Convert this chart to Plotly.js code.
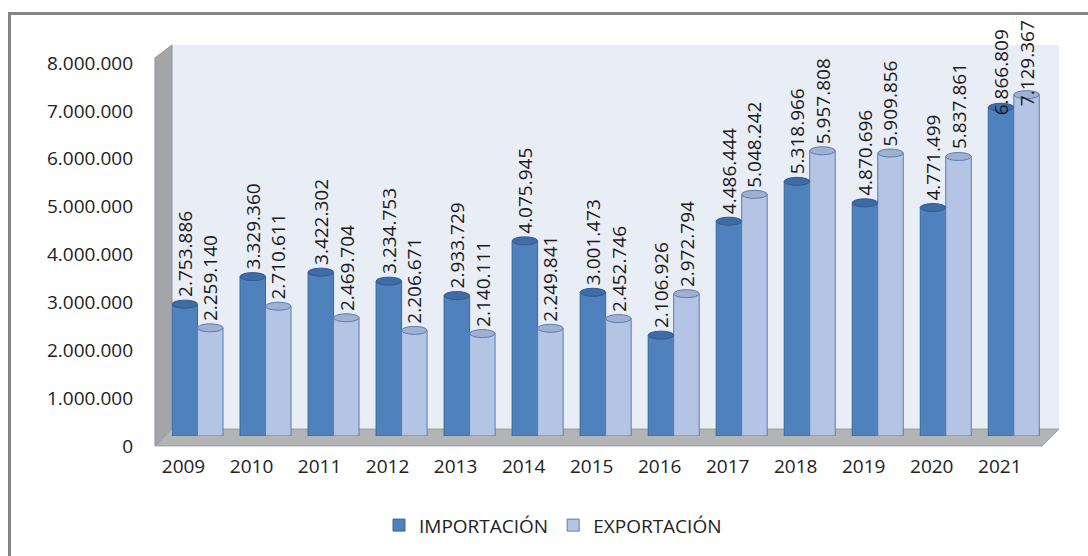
<!DOCTYPE html>
<html>
<head>
<meta charset="utf-8">
<script src="https://cdn.plot.ly/plotly-3.0.1.min.js"></script>
<style>
  html, body { margin: 0; padding: 0; background: #ffffff; }
  #chart { position: absolute; left: 0; top: 0; width: 1088px; height: 556px; }
  #frame { position: absolute; left: 8px; top: 12px; width: 1200px; height: 700px;
           border: 3px solid #858585; box-sizing: border-box; pointer-events: none; }
</style>
</head>
<body>
<div id="chart"></div>
<div id="frame"></div>
<script>
const years = [2009, 2010, 2011, 2012, 2013, 2014, 2015, 2016, 2017, 2018, 2019, 2020, 2021];
const importacion = [2753886, 3329360, 3422302, 3234753, 2933729, 4075945, 3001473, 2106926, 4486444, 5318966, 4870696, 4771499, 6866809];
const exportacion = [2259140, 2710611, 2469704, 2206671, 2140111, 2249841, 2452746, 2972794, 5048242, 5957808, 5909856, 5837861, 7129367];
const seriesNames = ['IMPORTACIÓN', 'EXPORTACIÓN'];
const yTicks = [0, 1000000, 2000000, 3000000, 4000000, 5000000, 6000000, 7000000, 8000000];

const W = 1088, H = 556;
const M = { l: 172, r: 30, t: 53, b: 116 };
const PW = W - M.l - M.r, PH = H - M.t - M.b;
// convert pixel position to paper coordinates (for decorative walls)
const px = x => (x - M.l) / PW;
const py = y => (H - M.b - y) / PH;
const path = pts => 'M ' + pts.map(p => px(p[0]).toFixed(5) + ',' + py(p[1]).toFixed(5)).join(' L ') + ' Z';

const FS = 19;
const font = { family: 'Open Sans, sans-serif', size: FS, color: '#222222' };
const BARGAP = 0.25;
const half = (1 - BARGAP) / 4; // centre offset of each bar within the group
const fmt = v => String(v).replace(/\B(?=(\d{3})+(?!\d))/g, '.');

const traces = [
  {
    type: 'bar', name: seriesNames[0], x: years, y: importacion,
    marker: { color: '#4f81bd', line: { color: '#3a6699', width: 1 } },
    hoverinfo: 'x+y'
  },
  {
    type: 'bar', name: seriesNames[1], x: years, y: exportacion,
    marker: { color: '#b4c4e4', line: { color: '#5a7cb3', width: 1 } },
    hoverinfo: 'x+y'
  }
];

const shapes = [
  // back wall
  { type: 'path', xref: 'paper', yref: 'paper', layer: 'below',
    path: path([[172, 45], [1059, 45], [1059, 433], [172, 433]]),
    fillcolor: '#e9edf5', line: { width: 0 } },
  // side wall
  { type: 'path', xref: 'paper', yref: 'paper', layer: 'below',
    path: path([[155, 58], [172, 45], [172, 433], [155, 450]]),
    fillcolor: '#a3a5a8', line: { color: '#8e9094', width: 1 } },
  // floor
  { type: 'path', xref: 'paper', yref: 'paper', layer: 'below',
    path: path([[172, 433], [1059, 433], [1042, 450], [155, 450]]),
    fillcolor: '#b3b4b6', line: { color: '#9a9b9e', width: 1 } }
];

// cylinder caps and rotated value labels placed on the data positions
const specs = [
  { vals: importacion, off: -half, fill: '#3f6ca6', line: '#335a8c', lastShift: -10 },
  { vals: exportacion, off: half, fill: '#9fb0d0', line: '#5a7cb3', lastShift: -14 }
];
const annotations = [];
specs.forEach(s => {
  years.forEach((yr, i) => {
    shapes.push({
      type: 'circle', xref: 'x', yref: 'y', layer: 'above',
      xsizemode: 'pixel', ysizemode: 'pixel',
      xanchor: yr + s.off, yanchor: s.vals[i],
      x0: -12.7, x1: 12.7, y0: -4, y1: 4,
      fillcolor: s.fill, line: { color: s.line, width: 1 }
    });
    annotations.push({
      xref: 'x', yref: 'y', x: yr + s.off, y: s.vals[i],
      text: fmt(s.vals[i]), showarrow: false, textangle: -90,
      xanchor: 'center', yanchor: 'bottom',
      yshift: (i === years.length - 1) ? s.lastShift : 5,
      font: { family: font.family, size: FS, color: '#1a1a1a' }
    });
  });
});

const layout = {
  width: W, height: H,
  margin: M,
  paper_bgcolor: '#ffffff',
  plot_bgcolor: 'rgba(0,0,0,0)',
  separators: ',.',
  font: font,
  barmode: 'group',
  bargap: BARGAP,
  bargroupgap: 0,
  showlegend: true,
  legend: {
    orientation: 'h', x: px(379), xanchor: 'left', y: py(511), yanchor: 'top',
    font: { family: font.family, size: FS, color: '#222222' },
    bgcolor: 'rgba(0,0,0,0)', itemwidth: 30, traceorder: 'normal'
  },
  xaxis: {
    type: 'linear', range: [2009 - 0.375, 2021 + 0.65],
    tickvals: years, ticktext: years.map(String),
    showgrid: false, zeroline: false, showline: false, ticks: '',
    ticklabelshift: -14, ticklabelstandoff: 17,
    tickfont: { family: font.family, size: FS, color: '#222222' }
  },
  yaxis: {
    range: [0, 8000000], tickvals: yTicks, tickformat: ',d',
    showgrid: false, zeroline: false, showline: false, ticks: '',
    ticklabelshift: 10, ticklabelstandoff: 38,
    tickfont: { family: font.family, size: FS, color: '#222222' }
  },
  shapes: shapes,
  annotations: annotations
};

Plotly.newPlot('chart', traces, layout, { displayModeBar: false, staticPlot: true });
</script>
</body>
</html>
